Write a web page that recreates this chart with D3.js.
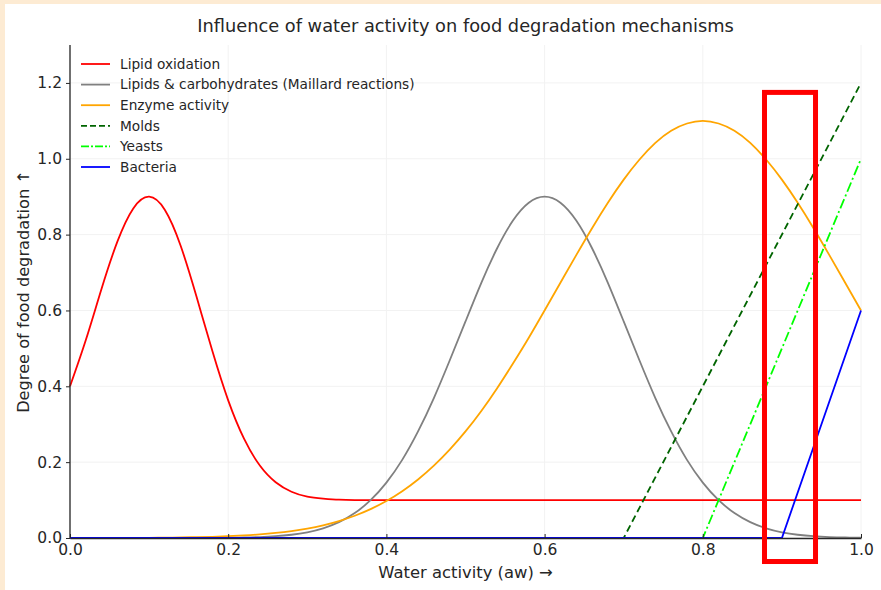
<!DOCTYPE html>
<html>
<head>
<meta charset="utf-8">
<script src="https://cdn.jsdelivr.net/npm/d3@7"></script>
<style>
  html, body { margin: 0; padding: 0; background: #ffffff; }
  #chart { width: 881px; height: 590px; }
  text { font-family: "DejaVu Sans", sans-serif; fill: #262626; }
</style>
</head>
<body>
<div id="chart"></div>
<script>
// x grid shared by the curved series (water activity, step 0.02)
let aw = d3.range(51).map(i => +(i * 0.02).toFixed(2));

let lipidOxidation = [0.400, 0.522, 0.658, 0.782, 0.869, 0.900, 0.865, 0.770, 0.636, 0.493,
  0.363, 0.262, 0.191, 0.147, 0.122, 0.109, 0.104, 0.101, 0.100, 0.100,
  0.100, 0.100, 0.100, 0.100, 0.100, 0.100, 0.100, 0.100, 0.100, 0.100,
  0.100, 0.100, 0.100, 0.100, 0.100, 0.100, 0.100, 0.100, 0.100, 0.100,
  0.100, 0.100, 0.100, 0.100, 0.100, 0.100, 0.100, 0.100, 0.100, 0.100, 0.100];

let maillard = [0, 0, 0, 0, 0, 0, 0, 0, 0, 0,
  0.0006, 0.0013, 0.0025, 0.0047, 0.0086, 0.015, 0.0255, 0.0417, 0.0657, 0.0997,
  0.146, 0.206, 0.281, 0.369, 0.468, 0.571, 0.673, 0.764, 0.837, 0.884,
  0.900, 0.884, 0.837, 0.764, 0.673, 0.571, 0.468, 0.369, 0.281, 0.206,
  0.146, 0.0997, 0.0657, 0.0417, 0.0255, 0.015, 0.0086, 0.0047, 0.0025, 0.0013, 0.0006];

let enzyme = [0.0001, 0.0001, 0.0002, 0.0002, 0.0003, 0.0004, 0.0010, 0.0015, 0.0022, 0.0032,
  0.0047, 0.0067, 0.0095, 0.0133, 0.0183, 0.0249, 0.0335, 0.0446, 0.0586, 0.0760,
  0.0974, 0.1234, 0.1544, 0.1908, 0.233, 0.281, 0.335, 0.395, 0.460, 0.528,
  0.600, 0.673, 0.746, 0.817, 0.884, 0.945, 0.998, 1.042, 1.074, 1.093,
  1.100, 1.093, 1.074, 1.042, 0.998, 0.945, 0.884, 0.817, 0.746, 0.673, 0.600];

// straight-line series: break points only
let moldsX = [0, 0.7, 1.0], moldsY = [0, 0, 1.2];
let yeastsX = [0, 0.8, 1.0], yeastsY = [0, 0, 1.0];
let bacteriaX = [0, 0.9, 1.0], bacteriaY = [0, 0, 0.6];

let seriesNames = ["Lipid oxidation", "Lipids & carbohydrates (Maillard reactions)",
  "Enzyme activity", "Molds", "Yeasts", "Bacteria"];
let seriesColors = ["#ff0000", "#808080", "#ffa500", "#006400", "#00ff00", "#0000ff"];
let seriesDash = [null, null, null, "7,4", "10,3,2,3", null];

let xTicks = [0, 0.2, 0.4, 0.6, 0.8, 1.0];
let yTicks = [0, 0.2, 0.4, 0.6, 0.8, 1.0, 1.2];

// highlighted box drawn over the chart (water activity / degradation units)
let boxX = [0.878, 0.9425];
let boxY = [-0.062, 1.175];

let width = 881, height = 590;
let mLeft = 70, mRight = 861, mTop = 45, mBottom = 538;

let svg = d3.select("#chart").append("svg")
  .attr("width", width)
  .attr("height", height);

svg.append("rect").attr("x", 0).attr("y", 0).attr("width", width).attr("height", 4).attr("fill", "#fdebd3");
svg.append("rect").attr("x", 0).attr("y", 0).attr("width", 5).attr("height", height).attr("fill", "#fdebd3");

let x = d3.scaleLinear().domain([0, 1]).range([mLeft, mRight]);
let y = d3.scaleLinear().domain([0, 1.3]).range([mBottom, mTop]);

// faint grid
svg.append("g").selectAll("line").data(xTicks).join("line")
  .attr("x1", d => x(d)).attr("x2", d => x(d))
  .attr("y1", mTop).attr("y2", mBottom)
  .attr("stroke", "#f2f2f2").attr("stroke-width", 1);
svg.append("g").selectAll("line").data(yTicks).join("line")
  .attr("x1", mLeft).attr("x2", mRight)
  .attr("y1", d => y(d)).attr("y2", d => y(d))
  .attr("stroke", "#f2f2f2").attr("stroke-width", 1);

let curved = [lipidOxidation, maillard, enzyme].map(v => aw.map((a, i) => [a, v[i]]));
let straight = [[moldsX, moldsY], [yeastsX, yeastsY], [bacteriaX, bacteriaY]]
  .map(s => s[0].map((a, i) => [a, s[1][i]]));

let smoothLine = d3.line().x(d => x(d[0])).y(d => y(d[1])).curve(d3.curveNatural);
let straightLine = d3.line().x(d => x(d[0])).y(d => y(d[1]));

let plot = svg.append("g");
curved.forEach((pts, i) => {
  plot.append("path")
    .attr("d", smoothLine(pts))
    .attr("fill", "none")
    .attr("stroke", seriesColors[i])
    .attr("stroke-width", 1.8);
});
straight.forEach((pts, j) => {
  let i = j + 3;
  plot.append("path")
    .attr("d", straightLine(pts))
    .attr("fill", "none")
    .attr("stroke", seriesColors[i])
    .attr("stroke-width", 1.8)
    .attr("stroke-dasharray", seriesDash[i]);
});

// axes
let xAxis = svg.append("g")
  .attr("transform", "translate(0," + mBottom + ")")
  .call(d3.axisBottom(x).tickValues(xTicks).tickFormat(d3.format(".1f")).tickSizeInner(-4).tickSizeOuter(0).tickPadding(6));
let yAxis = svg.append("g")
  .attr("transform", "translate(" + mLeft + ",0)")
  .call(d3.axisLeft(y).tickValues(yTicks).tickFormat(d3.format(".1f")).tickSizeInner(4).tickSizeOuter(0).tickPadding(4));

[xAxis, yAxis].forEach(a => {
  a.select(".domain").attr("stroke", "#262626").attr("stroke-width", 1.3);
  a.selectAll(".tick line").attr("stroke", "#262626");
  a.selectAll(".tick text").style("font-size", "15.5px").attr("fill", "#262626");
});
yAxis.select(".domain").attr("d", "M0," + mTop + "V" + mBottom);

// legend
let legend = svg.append("g");
seriesNames.forEach((name, i) => {
  let ly = 64 + i * 20.6;
  legend.append("line")
    .attr("x1", 81).attr("x2", 110)
    .attr("y1", ly).attr("y2", ly)
    .attr("stroke", seriesColors[i])
    .attr("stroke-width", 1.8)
    .attr("stroke-dasharray", seriesDash[i] ? (i === 3 ? "6,3" : "8,2,2,2") : null);
  legend.append("text")
    .attr("x", 120).attr("y", ly)
    .attr("dy", "0.35em")
    .style("font-size", "13.7px")
    .text(name);
});

// highlight box
svg.append("rect")
  .attr("x", x(boxX[0]))
  .attr("y", y(boxY[1]))
  .attr("width", x(boxX[1]) - x(boxX[0]))
  .attr("height", y(boxY[0]) - y(boxY[1]))
  .attr("fill", "none")
  .attr("stroke", "#ff0000")
  .attr("stroke-width", 5);

// titles
svg.append("text")
  .attr("x", (mLeft + mRight) / 2).attr("y", 26)
  .attr("text-anchor", "middle").attr("dy", "0.35em")
  .style("font-size", "17.8px")
  .text("Influence of water activity on food degradation mechanisms");

svg.append("text")
  .attr("x", (mLeft + mRight) / 2).attr("y", 572)
  .attr("text-anchor", "middle").attr("dy", "0.35em")
  .style("font-size", "16.4px")
  .text("Water activity (aw) →");

svg.append("text")
  .attr("transform", "translate(23," + (mTop + mBottom) / 2 + ") rotate(-90)")
  .attr("text-anchor", "middle").attr("dy", "0.35em")
  .style("font-size", "16.2px")
  .text("Degree of food degradation ↑");
</script>
</body>
</html>
